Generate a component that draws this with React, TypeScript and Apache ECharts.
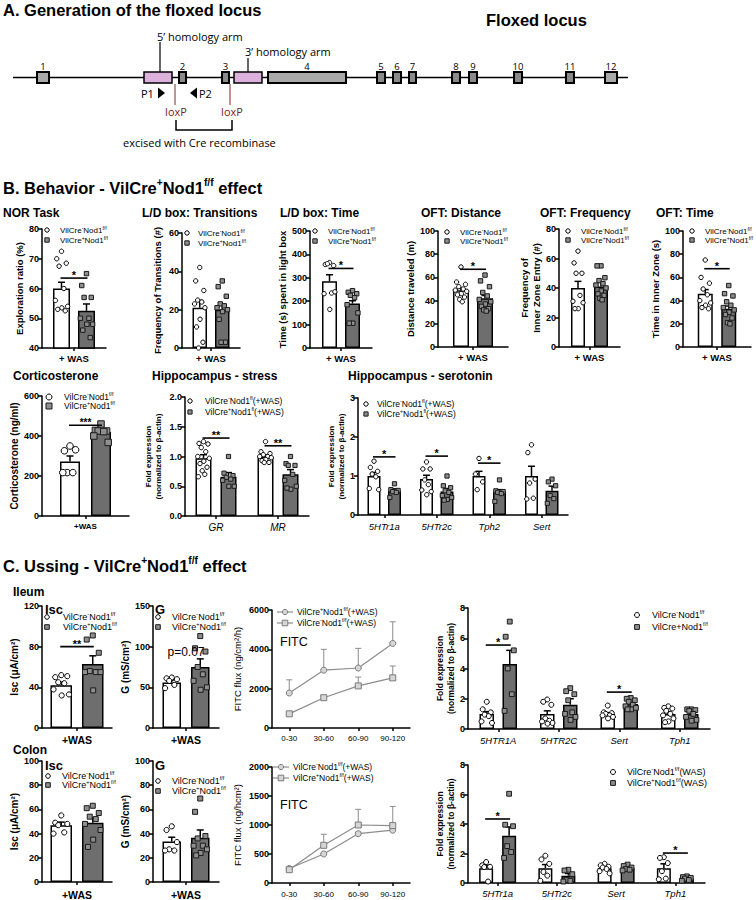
import React, { useEffect, useRef } from 'react';
import * as echarts from 'echarts';

const FF = '"Liberation Sans", Arial, Helvetica, sans-serif';
const FD = '"Open Sans", "DejaVu Sans", sans-serif';
const GRAY_BAR = '#6e6e6e';

// ================= DATA =================
// ---- B. Behavior, row 1 (single category "+ WAS") ----
const wasCat = ['+ WAS'];
const norWMean = [60], norWSem = [2.1], norGMean = [52.5], norGSem = [2.3];
const norWPts = [[72.5, 70, 68.5, 67.5, 60, 56, 54, 53.5, 53, 52.5]];
const norGPts = [[65, 61, 57, 57, 50, 50, 48, 48, 46, 43.5]];
const norSig = [{ cat: 0, y: 63.5, label: '*' }];

const ldtWMean = [21], ldtWSem = [3.8], ldtGMean = [20], ldtGSem = [2.8];
const ldtWPts = [[42, 35, 30, 25, 24, 23, 21, 15, 11, 3, 0]];
const ldtGPts = [[35, 32, 27, 23, 22, 21, 20, 19, 15, 3, 3]];

const ldtmWMean = [285], ldtmWSem = [28], ldtmGMean = [190], ldtmGSem = [12];
const ldtmWPts = [[365, 357, 352, 360, 235, 232, 240, 165]];
const ldtmGPts = [[245, 238, 232, 225, 215, 185, 150, 106, 106]];
const ldtmSig = [{ cat: 0, y: 340, label: '*' }];

const odWMean = [49], odWSem = [2], odGMean = [42], odGSem = [2.4];
const odWPts = [[69, 56, 54, 52, 50, 49, 48, 46, 45, 43, 41, 39]];
const odGPts = [[62, 57, 52, 47, 44, 41, 39, 37, 35, 33, 32, 31]];
const odSig = [{ cat: 0, y: 67, label: '*' }];

const ofWMean = [40], ofWSem = [4.5], ofGMean = [41], ofGSem = [3];
const ofWPts = [[65, 57, 50, 50, 35, 31, 30, 26, 26]];
const ofGPts = [[55, 55, 47, 45, 43, 42, 40, 38, 36, 35, 33, 32]];

const otWMean = [46], otWSem = [3.5], otGMean = [33], otGSem = [2.3];
const otWPts = [[75, 60, 55, 50, 45, 40, 38, 36, 34, 33]];
const otGPts = [[53, 46, 44, 39, 36, 34, 32, 30, 28, 25, 21, 20]];
const otSig = [{ cat: 0, y: 67.5, label: '*' }];

// ---- B. Behavior, row 2 ----
const cortCat = ['+WAS'];
const cortWMean = [272], cortWSem = [28], cortGMean = [420], cortGSem = [12];
const cortWPts = [[350, 326, 331, 217, 217, 217]];
const cortGPts = [[460, 428, 425, 425, 422, 400, 368]];
const cortSig = [{ cat: 0, y: 454, label: '***' }];

const hsCats = ['GR', 'MR'];
const hsWMean = [0.97, 1.0], hsWSem = [0.06, 0.03], hsGMean = [0.66, 0.7], hsGSem = [0.07, 0.08];
const hsWPts = [[1.25, 1.22, 1.21, 1.15, 1.08, 1.0, 0.97, 0.92, 0.88, 0.82, 0.76, 0.7, 0.66], [1.25, 1.08, 1.05, 1.03, 1.0, 1.0, 0.98, 0.95, 0.93, 0.9, 0.9]];
const hsGPts = [[1.0, 0.72, 0.68, 0.65, 0.62, 0.6, 0.5, 0.5], [1.0, 0.88, 0.85, 0.85, 0.7, 0.6, 0.5, 0.45, 0.47]];
const hsSig = [{ cat: 0, y: 1.31, label: '**' }, { cat: 1, y: 1.18, label: '**' }];

const hserCats = ['5HTr1a', '5HTr2c', 'Tph2', 'Sert'];
const hserWMean = [1.0, 0.92, 1.0, 1.0], hserWSem = [0.09, 0.1, 0.12, 0.25];
const hserGMean = [0.62, 0.6, 0.6, 0.62], hserGSem = [0.05, 0.08, 0.05, 0.12];
const hserWPts = [[1.38, 1.22, 1.12, 1.05, 0.98, 0.68, 0.65], [1.36, 1.18, 1.18, 0.9, 0.78, 0.64, 0.6, 0.52], [1.45, 1.05, 0.85, 0.65], [1.8, 1.6, 0.92, 0.82, 0.43, 0.41]];
const hserGPts = [[0.8, 0.65, 0.63, 0.6, 0.58, 0.45], [1.0, 0.75, 0.7, 0.62, 0.58, 0.5, 0.45, 0.4, 0.38], [0.9, 0.62, 0.6, 0.58, 0.55, 0.35], [0.92, 0.85, 0.75, 0.5, 0.42, 0.3]];
const hserSig = [{ cat: 0, y: 1.49, label: '*' }, { cat: 1, y: 1.51, label: '*' }, { cat: 2, y: 1.33, label: '*' }];

// ---- C. Ussing, Ileum ----
const ussCat = ['+WAS'];
const ilIscWMean = [42], ilIscWSem = [3], ilIscGMean = [63], ilIscGSem = [8];
const ilIscWPts = [[52, 50, 51, 45, 44, 38, 33, 32]];
const ilIscGPts = [[91, 87, 74, 56, 55, 55, 55, 37]];
const ilIscSig = [{ cat: 0, y: 80, label: '**' }];

const ilGWMean = [56], ilGWSem = [3], ilGGMean = [75], ilGGSem = [10];
const ilGWPts = [[62, 61, 60, 58, 53, 49]];
const ilGGPts = [[113, 98, 94, 75, 66, 58, 50, 47]];
const ilGSig = [{ cat: 0, y: 93, label: 'p=0.07', noLine: true }];

const fitcCats = ['0-30', '30-60', '60-90', '90-120'];
const ilFitcCircle = [1780, 2940, 3050, 4300], ilFitcCircleSem = [670, 1060, 1000, 1100];
const ilFitcSquare = [720, 1540, 2140, 2550], ilFitcSquareSem = [40, 80, 450, 600];

const ilGeneCats = ['5HTR1A', '5HTR2C', 'Sert', 'Tph1'];
const ilGeneWMean = [1.0, 1.0, 1.0, 1.0], ilGeneWSem = [0.15, 0.2, 0.08, 0.1];
const ilGeneGMean = [4.3, 1.6, 1.65, 1.0], ilGeneGSem = [0.9, 0.4, 0.1, 0.08];
const ilGeneWPts = [[1.8, 1.3, 1.1, 0.95, 0.85, 0.5, 0.4], [1.95, 1.8, 1.6, 0.7, 0.55, 0.5, 0.4, 0.35], [1.55, 1.1, 1.05, 1.0, 0.9, 0.9, 0.8, 0.7], [1.5, 1.4, 1.35, 1.2, 1.0, 0.9, 0.7, 0.5, 0.45]];
const ilGeneGPts = [[7.1, 6.1, 5.2, 4.0, 2.3, 1.2], [2.7, 2.5, 2.3, 1.9, 1.1, 1.0, 0.8, 0.6], [2.05, 2.0, 1.9, 1.8, 1.6, 1.5, 1.4, 1.3, 1.3], [1.3, 1.3, 1.25, 1.2, 1.0, 0.8, 0.6, 0.55]];
const ilGeneSig = [{ cat: 0, y: 5.55, label: '*' }, { cat: 2, y: 2.44, label: '*' }];

// ---- C. Ussing, Colon ----
const coIscWMean = [47], coIscWSem = [2.5], coIscGMean = [49], coIscGSem = [4];
const coIscWPts = [[55, 49, 48, 47, 41, 40]];
const coIscGPts = [[63, 61, 57, 54, 52, 48, 43, 35, 29]];

const coGWMean = [33.5], coGWSem = [3.5], coGGMean = [36.5], coGGSem = [6.5];
const coGWPts = [[46, 43, 33, 27, 26, 26]];
const coGGPts = [[69, 58, 38, 36, 30, 30, 27, 24, 22]];

const coFitcCircle = [250, 500, 850, 910], coFitcCircleSem = [20, 30, 30, 30];
const coFitcSquare = [230, 650, 1000, 990], coFitcSquareSem = [40, 190, 270, 330];

const coGeneCats = ['5HTr1a', '5HTr2c', 'Sert', 'Tph1'];
const coGeneWMean = [1.0, 1.0, 1.0, 1.0], coGeneWSem = [0.2, 0.25, 0.07, 0.3];
const coGeneGMean = [3.2, 0.5, 1.0, 0.3], coGeneGSem = [0.6, 0.15, 0.06, 0.04];
const coGeneWPts = [[1.42, 1.2, 1.1, 1.08, 0.1], [1.85, 1.6, 1.3, 0.75, 0.5, 0.15], [1.3, 1.2, 1.1, 1.05, 0.95, 0.8, 0.65], [1.75, 1.7, 1.35, 0.8, 0.3, 0.25]];
const coGeneGPts = [[6.05, 3.95, 3.85, 2.5, 2.1, 1.7], [0.9, 0.85, 0.6, 0.2, 0.15, 0.1], [1.25, 1.15, 1.05, 0.95, 0.9, 0.85], [0.45, 0.4, 0.35, 0.3, 0.2, 0.15]];
const coGeneSig = [{ cat: 0, y: 4.34, label: '*' }, { cat: 3, y: 2.03, label: '*' }];

// ---- Legend labels (segments starting with ^ are superscripts) ----
const L_NEG = ['VilCre', '^-', 'Nod1', '^f/f'];
const L_POS = ['VilCre', '^+', 'Nod1', '^f/f'];
const L_NEG_FL = ['VilCre', '^-', 'Nod1', '^fl', '(+WAS)'];
const L_POS_FL = ['VilCre', '^+', 'Nod1', '^fl', '(+WAS)'];
const L_NEG_W = ['VilCre', '^-', 'Nod1', '^f/f', '(+WAS)'];
const L_POS_W = ['VilCre', '^+', 'Nod1', '^f/f', '(+WAS)'];
const L_POS_PLAIN = ['VilCre+Nod1', '^f/f'];
const L_NEG_WAS = ['VilCre', '^-', 'Nod1', '^f/f', '(WAS)'];
const L_POS_WAS = ['VilCre', '^+', 'Nod1', '^f/f', '(WAS)'];

const exonLabels = ['1', '2', '3', '4', '5', '6', '7', '8', '9', '10', '11', '12'];

// ================= HELPERS =================
const JIT = [0, -0.7, 0.7, -0.35, 0.35, -0.9, 0.9, 0.05, -0.55, 0.55, -0.2, 0.2, -0.8, 0.8];

function richText(segs: string[], fs: number, fw: string = 'normal') {
  let text = '';
  segs.forEach((s) => {
    if (s.startsWith('^')) text += '{s|' + s.slice(1) + '}';
    else text += '{n|' + s + '}';
  });
  const rich = {
    n: { fontSize: fs, fontFamily: FF, fontWeight: fw, fill: '#000', color: '#000', lineHeight: fs * 1.25 },
    s: { fontSize: Math.round(fs * 0.62 * 10) / 10, fontFamily: FF, fontWeight: fw, fill: '#000', color: '#000', verticalAlign: 'top', lineHeight: fs * 0.7 },
  };
  return { text, rich };
}

function T(text: string, x: number, y: number, fs: number, o: any = {}) {
  return {
    type: 'text', x, y, silent: true,
    style: {
      text, fontSize: fs, fontFamily: o.ff || FF, fontWeight: o.fw || 'normal', fontStyle: o.fst || 'normal',
      fill: o.fill || '#000', textAlign: o.align || 'left', textVerticalAlign: 'middle',
    },
  };
}

function RT(segs: string[], x: number, y: number, fs: number, fw: string = 'normal') {
  const r = richText(segs, fs, fw);
  return {
    type: 'text', x, y, silent: true,
    style: { text: r.text, rich: r.rich, fontSize: fs, fontFamily: FF, fontWeight: fw, fill: '#000', textAlign: 'left', textVerticalAlign: 'middle' },
  };
}

function marker(kind: string, x: number, y: number, r: number, sq: number) {
  const els: any[] = [];
  if (kind === 'lc' || kind === 'ls') {
    els.push({ type: 'line', silent: true, shape: { x1: x - 8, y1: y, x2: x + 8, y2: y }, style: { stroke: '#8c8c8c', lineWidth: 1.2 } });
  }
  if (kind === 'circle') els.push({ type: 'circle', silent: true, shape: { cx: x, cy: y, r }, style: { fill: '#fff', stroke: '#000', lineWidth: 1 } });
  if (kind === 'square') els.push({ type: 'rect', silent: true, shape: { x: x - sq / 2, y: y - sq / 2, width: sq, height: sq }, style: { fill: '#8f8f8f', stroke: '#1a1a1a', lineWidth: 1 } });
  if (kind === 'lc') els.push({ type: 'circle', silent: true, shape: { cx: x, cy: y, r: 2.6 }, style: { fill: '#d6d6d6', stroke: '#7a7a7a', lineWidth: 1 } });
  if (kind === 'ls') els.push({ type: 'rect', silent: true, shape: { x: x - 2.8, y: y - 2.8, width: 5.6, height: 5.6 }, style: { fill: '#d6d6d6', stroke: '#7a7a7a', lineWidth: 1 } });
  return els;
}

function legend(mx: number, tx: number, ys: number[], items: { m: string; l: string[] }[], fs: number, r: number, sq: number) {
  const els: any[] = [];
  items.forEach((it, i) => {
    els.push(...marker(it.m, mx, ys[i], r, sq));
    els.push(RT(it.l, tx, ys[i], fs));
  });
  return els;
}

function buildOption() {
  const grid: any[] = [], xAxis: any[] = [], yAxis: any[] = [], series: any[] = [];

  function axes(p: any) {
    const gi = grid.length;
    grid.push({ left: p.left, top: p.top, width: p.width, height: p.height, containLabel: false });
    xAxis.push({
      type: 'category', gridIndex: gi, data: p.cats,
      axisLine: { show: true, onZero: false, lineStyle: { color: '#000', width: 1.5 } },
      axisTick: { show: true, alignWithLabel: true, length: 3, lineStyle: { color: '#000', width: 1.5 } },
      axisLabel: { color: '#000', fontFamily: FF, interval: 0, margin: p.catMargin, ...p.catFont },
      splitLine: { show: false },
    });
    yAxis.push({
      type: 'value', gridIndex: gi, min: p.min, max: p.max, interval: p.interval,
      axisLine: { show: true, lineStyle: { color: '#000', width: 1.5 } },
      axisTick: { show: true, length: 4, lineStyle: { color: '#000', width: 1.5 } },
      axisLabel: { color: '#000', fontFamily: FF, fontSize: 9, fontWeight: 'bold', margin: 3, formatter: p.fmt || ((v: number) => String(v)) },
      splitLine: { show: false },
      name: p.yName, nameLocation: 'middle', nameRotate: 90, nameGap: p.nameGap,
      nameTextStyle: { color: '#000', fontFamily: FF, fontSize: p.nameSize, fontWeight: p.nameWeight || 'bold', lineHeight: p.nameSize + 2, align: 'center' },
    });
    return gi;
  }

  function errSeries(gi: number, mean: number[], sem: number[], off: number, color: string, cap: number, lw: number, z: number) {
    return {
      type: 'custom', xAxisIndex: gi, yAxisIndex: gi, z, silent: true, clip: false,
      encode: { x: 0, y: 1 },
      data: mean.map((m, i) => [i, m, m + sem[i]]),
      renderItem: (params: any, api: any) => {
        const a = api.coord([api.value(0), api.value(1)]);
        const b = api.coord([api.value(0), api.value(2)]);
        const x = a[0] + off;
        return {
          type: 'group', children: [
            { type: 'line', shape: { x1: x, y1: a[1], x2: x, y2: b[1] }, style: { stroke: color, lineWidth: lw } },
            { type: 'line', shape: { x1: x - cap, y1: b[1], x2: x + cap, y2: b[1] }, style: { stroke: color, lineWidth: lw } },
          ],
        };
      },
    };
  }

  function ptsSeries(gi: number, pts: number[][], off: number, barW: number, shape: string, size: number) {
    const data: any[] = [];
    pts.forEach((arr, ci) => arr.forEach((v, k) => data.push([ci, v, k])));
    return {
      type: 'custom', xAxisIndex: gi, yAxisIndex: gi, z: 4, silent: true, clip: false,
      encode: { x: 0, y: 1 },
      data,
      renderItem: (params: any, api: any) => {
        const c = api.coord([api.value(0), api.value(1)]);
        const x = c[0] + off + JIT[api.value(2) % JIT.length] * barW * 0.4;
        if (shape === 'circle') {
          return { type: 'circle', shape: { cx: x, cy: c[1], r: size }, style: { fill: '#fff', stroke: '#000', lineWidth: 1 } };
        }
        return { type: 'rect', shape: { x: x - size / 2, y: c[1] - size / 2, width: size, height: size }, style: { fill: '#8f8f8f', stroke: '#1a1a1a', lineWidth: 1 } };
      },
    };
  }

  function sigSeries(gi: number, sig: any[], half: number, fs: number) {
    return {
      type: 'custom', xAxisIndex: gi, yAxisIndex: gi, z: 5, silent: true, clip: false,
      encode: { x: 0, y: 1 },
      data: sig.map((s) => [s.cat, s.y]),
      renderItem: (params: any, api: any) => {
        const s = sig[params.dataIndex];
        const c = api.coord([api.value(0), api.value(1)]);
        const children: any[] = [];
        if (!s.noLine) {
          children.push({ type: 'line', shape: { x1: c[0] - half - 1, y1: c[1], x2: c[0] + half + 1, y2: c[1] }, style: { stroke: '#000', lineWidth: 1.6 } });
          children.push({ type: 'text', x: c[0], y: c[1] - 3, style: { text: s.label, textAlign: 'center', textVerticalAlign: 'middle', fontSize: fs, fontFamily: FF, fontWeight: 'bold', fill: '#000' } });
        } else {
          children.push({ type: 'text', x: c[0], y: c[1], style: { text: s.label, textAlign: 'center', textVerticalAlign: 'middle', fontSize: 12, fontFamily: FF, fontWeight: 'normal', fill: '#000' } });
        }
        return { type: 'group', children };
      },
    };
  }

  function barPanel(p: any) {
    const gi = axes(p);
    const gapPct = (((p.spacing - p.barW) / p.barW) * 100).toFixed(1) + '%';
    const half = p.spacing / 2;
    series.push({ type: 'bar', name: 'VilCre-', xAxisIndex: gi, yAxisIndex: gi, data: p.wMean, barWidth: p.barW, barGap: gapPct, z: 2, silent: true, itemStyle: { color: '#fff', borderColor: '#000', borderWidth: 1.5 } });
    series.push({ type: 'bar', name: 'VilCre+', xAxisIndex: gi, yAxisIndex: gi, data: p.gMean, barWidth: p.barW, barGap: gapPct, z: 2, silent: true, itemStyle: { color: GRAY_BAR, borderColor: '#000', borderWidth: 1.5 } });
    series.push(errSeries(gi, p.wMean, p.wSem, -half, '#000', 3.5, 1.5, 3));
    series.push(errSeries(gi, p.gMean, p.gSem, half, '#000', 3.5, 1.5, 3));
    series.push(ptsSeries(gi, p.wPts, -half, p.barW, 'circle', p.r));
    series.push(ptsSeries(gi, p.gPts, half, p.barW, 'square', p.sq));
    if (p.sig) series.push(sigSeries(gi, p.sig, half, p.sigFs || 11));
  }

  function linePanel(p: any) {
    const gi = axes(p);
    series.push(errSeries(gi, p.aMean, p.aSem, 0, '#8c8c8c', 3, 1, 2));
    series.push(errSeries(gi, p.bMean, p.bSem, 0, '#8c8c8c', 3, 1, 2));
    series.push({ type: 'line', xAxisIndex: gi, yAxisIndex: gi, data: p.aMean, symbol: 'circle', symbolSize: 6, z: 3, silent: true, lineStyle: { color: '#8c8c8c', width: 1.2 }, itemStyle: { color: '#d6d6d6', borderColor: '#7a7a7a', borderWidth: 1 } });
    series.push({ type: 'line', xAxisIndex: gi, yAxisIndex: gi, data: p.bMean, symbol: 'rect', symbolSize: 6, z: 3, silent: true, lineStyle: { color: '#8c8c8c', width: 1.2 }, itemStyle: { color: '#d6d6d6', borderColor: '#7a7a7a', borderWidth: 1 } });
  }

  const row1Cat = { fontSize: 9.5, fontWeight: 'bold' };
  const r1 = { cats: wasCat, catFont: row1Cat, catMargin: 5, nameSize: 9.5, r: 2.2, sq: 4.4 };

  barPanel({ ...r1, left: 42, top: 229, width: 64, height: 119, min: 40, max: 80, interval: 10, yName: 'Exploration ratio (%)', nameGap: 16, wMean: norWMean, wSem: norWSem, gMean: norGMean, gSem: norGSem, wPts: norWPts, gPts: norGPts, barW: 17, spacing: 25, sig: norSig });
  barPanel({ ...r1, left: 182, top: 233, width: 58, height: 115, min: 0, max: 60, interval: 20, yName: 'Frequency of Transitions (#)', nameGap: 19, wMean: ldtWMean, wSem: ldtWSem, gMean: ldtGMean, gSem: ldtGSem, wPts: ldtWPts, gPts: ldtGPts, barW: 14.5, spacing: 22.5 });
  barPanel({ ...r1, left: 310, top: 231, width: 62, height: 117, min: 0, max: 500, interval: 100, yName: 'Time (s) spent in light box', nameGap: 22, wMean: ldtmWMean, wSem: ldtmWSem, gMean: ldtmGMean, gSem: ldtmGSem, wPts: ldtmWPts, gPts: ldtmGPts, barW: 15, spacing: 23, sig: ldtmSig });
  barPanel({ ...r1, left: 438, top: 231, width: 70, height: 116, min: 0, max: 100, interval: 20, yName: 'Distance traveled (m)', nameGap: 17, wMean: odWMean, wSem: odWSem, gMean: odGMean, gSem: odGSem, wPts: odWPts, gPts: odGPts, barW: 16, spacing: 24, sig: odSig });
  barPanel({ ...r1, left: 559, top: 229, width: 61, height: 118, min: 0, max: 80, interval: 20, yName: 'Frequency of\nInner Zone Entry (#)', nameGap: 17, wMean: ofWMean, wSem: ofWSem, gMean: ofGMean, gSem: ofGSem, wPts: ofWPts, gPts: ofGPts, barW: 14, spacing: 23 });
  barPanel({ ...r1, left: 683, top: 231, width: 68, height: 116, min: 0, max: 100, interval: 20, yName: 'Time in Inner Zone (s)', nameGap: 18, wMean: otWMean, wSem: otWSem, gMean: otGMean, gSem: otGSem, wPts: otWPts, gPts: otGPts, barW: 15, spacing: 23.5, sig: otSig });

  barPanel({ cats: cortCat, catFont: { fontSize: 8, fontWeight: 'bold' }, catMargin: 6, nameSize: 10, r: 3.3, sq: 6.5, left: 42, top: 396, width: 87, height: 120, min: 0, max: 600, interval: 200, yName: 'Corticosterone (ng/ml)', nameGap: 20, wMean: cortWMean, wSem: cortWSem, gMean: cortGMean, gSem: cortGSem, wPts: cortWPts, gPts: cortGPts, barW: 20, spacing: 31, sig: cortSig, sigFs: 10 });
  barPanel({ cats: hsCats, catFont: { fontSize: 10, fontStyle: 'italic' }, catMargin: 6, nameSize: 8, r: 2.2, sq: 4.2, left: 185, top: 397, width: 124, height: 119, min: 0, max: 2, interval: 0.5, fmt: (v: number) => v.toFixed(1), yName: 'Fold expression\n(normalized to β-actin)', nameGap: 22, wMean: hsWMean, wSem: hsWSem, gMean: hsGMean, gSem: hsGSem, wPts: hsWPts, gPts: hsGPts, barW: 16, spacing: 25, sig: hsSig });
  barPanel({ cats: hserCats, catFont: { fontSize: 9.5, fontStyle: 'italic' }, catMargin: 6, nameSize: 8, r: 2.2, sq: 4.2, left: 358, top: 398, width: 210, height: 117, min: 0, max: 3, interval: 1, yName: 'Fold expression\n(normalized to β-actin)', nameGap: 12, wMean: hserWMean, wSem: hserWSem, gMean: hserGMean, gSem: hserGSem, wPts: hserWPts, gPts: hserGPts, barW: 13, spacing: 20.5, sig: hserSig });

  const uss = { cats: ussCat, catFont: { fontSize: 10.5, fontWeight: 'bold' }, catMargin: 6, nameSize: 10, r: 2.6, sq: 5 };
  barPanel({ ...uss, left: 42, top: 606, width: 70, height: 122, min: 0, max: 120, interval: 40, yName: 'Isc (μA/cm²)', nameGap: 15, wMean: ilIscWMean, wSem: ilIscWSem, gMean: ilIscGMean, gSem: ilIscGSem, wPts: ilIscWPts, gPts: ilIscGPts, barW: 21.5, spacing: 31.5, sig: ilIscSig });
  barPanel({ ...uss, left: 153, top: 606, width: 66, height: 122, min: 0, max: 150, interval: 50, yName: 'G (mS/cm²)', nameGap: 20, wMean: ilGWMean, wSem: ilGWSem, gMean: ilGGMean, gSem: ilGGSem, wPts: ilGWPts, gPts: ilGGPts, barW: 18.5, spacing: 28.5, sig: ilGSig });
  linePanel({ cats: fitcCats, catFont: { fontSize: 8 }, catMargin: 6, nameSize: 9.5, nameWeight: 'normal', left: 272, top: 610, width: 138, height: 118, min: 0, max: 6000, interval: 2000, yName: 'FITC flux (ng/cm²/h)', nameGap: 29, aMean: ilFitcCircle, aSem: ilFitcCircleSem, bMean: ilFitcSquare, bSem: ilFitcSquareSem });
  barPanel({ cats: ilGeneCats, catFont: { fontSize: 9.5, fontStyle: 'italic' }, catMargin: 6, nameSize: 8.5, r: 2.5, sq: 4.8, left: 468, top: 608, width: 242, height: 121, min: 0, max: 8, interval: 2, yName: 'Fold expression\n(normalized to β-actin)', nameGap: 11, wMean: ilGeneWMean, wSem: ilGeneWSem, gMean: ilGeneGMean, gSem: ilGeneGSem, wPts: ilGeneWPts, gPts: ilGeneGPts, barW: 14.5, spacing: 23, sig: ilGeneSig });

  barPanel({ ...uss, catMargin: 7, left: 42, top: 761, width: 70, height: 122, min: 0, max: 100, interval: 20, yName: 'Isc (μA/cm²)', nameGap: 15, wMean: coIscWMean, wSem: coIscWSem, gMean: coIscGMean, gSem: coIscGSem, wPts: coIscWPts, gPts: coIscGPts, barW: 21.5, spacing: 31.5 });
  barPanel({ ...uss, catMargin: 7, left: 153, top: 761, width: 66, height: 122, min: 0, max: 100, interval: 20, yName: 'G (mS/cm²)', nameGap: 20, wMean: coGWMean, wSem: coGWSem, gMean: coGGMean, gSem: coGGSem, wPts: coGWPts, gPts: coGGPts, barW: 18.5, spacing: 28.5 });
  linePanel({ cats: fitcCats, catFont: { fontSize: 8 }, catMargin: 7, nameSize: 9.5, nameWeight: 'normal', left: 272, top: 767, width: 138, height: 116, min: 0, max: 2000, interval: 500, yName: 'FITC flux (ng/hcm²)', nameGap: 29, aMean: coFitcCircle, aSem: coFitcCircleSem, bMean: coFitcSquare, bSem: coFitcSquareSem });
  barPanel({ cats: coGeneCats, catFont: { fontSize: 9.5, fontStyle: 'italic' }, catMargin: 5, nameSize: 8.5, r: 2.5, sq: 4.8, left: 468, top: 765, width: 237, height: 118, min: 0, max: 8, interval: 2, yName: 'Fold expression\n(normalized to β-actin)', nameGap: 12, wMean: coGeneWMean, wSem: coGeneWSem, gMean: coGeneGMean, gSem: coGeneGSem, wPts: coGeneWPts, gPts: coGeneGPts, barW: 14, spacing: 23, sig: coGeneSig });

  // ================= GRAPHIC =================
  const g: any[] = [];
  // --- Panel A diagram ---
  g.push(T('A. Generation of the floxed locus', 3, 10, 16.5, { fw: 'bold' }));
  g.push(T('Floxed locus', 486, 20, 16.5, { fw: 'bold' }));
  g.push({ type: 'line', silent: true, shape: { x1: 13, y1: 77.5, x2: 628, y2: 77.5 }, style: { stroke: '#000', lineWidth: 1.5 } });
  const exonBoxes = [
    [37, 12, 'L'], [179, 7, 'S'], [222, 7, 'S'], [268, 78, 'L'], [377, 8, 'S'], [393, 8, 'S'], [409, 7, 'S'],
    [452, 8, 'S'], [469, 8, 'S'], [514, 8, 'S'], [566, 8, 'S'], [605, 12, 'L'],
  ];
  // homology arms (pink)
  g.push({ type: 'rect', silent: true, shape: { x: 144, y: 72, width: 28, height: 11 }, style: { fill: '#dcb1dc', stroke: '#000', lineWidth: 1.5 } });
  g.push({ type: 'rect', silent: true, shape: { x: 234, y: 72, width: 28, height: 11 }, style: { fill: '#dcb1dc', stroke: '#000', lineWidth: 1.5 } });
  exonBoxes.forEach((e: any, i) => {
    g.push({ type: 'rect', silent: true, shape: { x: e[0], y: 72, width: e[1], height: 11 }, style: { fill: e[2] === 'L' ? '#a9a9a9' : '#8a8a8a', stroke: '#000', lineWidth: 2 } });
    g.push(T(exonLabels[i], e[0] + e[1] / 2, 66, 9.5, { ff: FD, align: 'center' }));
  });
  g.push({ type: 'line', silent: true, shape: { x1: 160, y1: 42, x2: 160, y2: 72 }, style: { stroke: '#000', lineWidth: 1.2 } });
  g.push(T('5’ homology arm', 157, 36, 11, { ff: FD }));
  g.push({ type: 'line', silent: true, shape: { x1: 248, y1: 58, x2: 248, y2: 72 }, style: { stroke: '#000', lineWidth: 1.2 } });
  g.push(T('3’ homology arm', 245, 51, 11, { ff: FD }));
  g.push(T('P1', 141, 93, 11, { ff: FD }));
  g.push({ type: 'polygon', silent: true, shape: { points: [[158, 87.5], [165, 93], [158, 98.5]] }, style: { fill: '#000' } });
  g.push({ type: 'polygon', silent: true, shape: { points: [[197, 87.5], [190, 93], [197, 98.5]] }, style: { fill: '#000' } });
  g.push(T('P2', 199, 93, 11, { ff: FD }));
  g.push({ type: 'line', silent: true, shape: { x1: 175, y1: 84, x2: 175, y2: 105 }, style: { stroke: '#7b2a2a', lineWidth: 1 } });
  g.push({ type: 'line', silent: true, shape: { x1: 230, y1: 84, x2: 230, y2: 105 }, style: { stroke: '#7b2a2a', lineWidth: 1 } });
  g.push(T('loxP', 176, 111, 11, { ff: FD, align: 'center', fill: '#7a1d1d' }));
  g.push(T('loxP', 232, 111, 11, { ff: FD, align: 'center', fill: '#7a1d1d' }));
  g.push({ type: 'polyline', silent: true, shape: { points: [[176, 120], [176, 130], [232, 130], [232, 120]] }, style: { stroke: '#000', lineWidth: 1.5, fill: null } });
  g.push(T('excised with Cre recombinase', 123, 142, 11, { ff: FD }));

  // --- Section titles ---
  g.push(RT(['B. Behavior - VilCre', '^+', 'Nod1', '^f/f', ' effect'], 3, 188, 16.5, 'bold'));
  g.push(T('NOR Task', 3, 213, 12, { fw: 'bold' }));
  g.push(T('L/D box: Transitions', 142, 213, 12, { fw: 'bold' }));
  g.push(T('L/D box: Time', 280, 213, 12, { fw: 'bold' }));
  g.push(T('OFT: Distance', 421, 213, 12, { fw: 'bold' }));
  g.push(T('OFT: Frequency', 540, 213, 12, { fw: 'bold' }));
  g.push(T('OFT: Time', 656, 213, 12, { fw: 'bold' }));
  g.push(T('Corticosterone', 13, 376, 12, { fw: 'bold' }));
  g.push(T('Hippocampus - stress', 152, 376, 12, { fw: 'bold' }));
  g.push(T('Hippocampus - serotonin', 348, 376, 12, { fw: 'bold' }));
  g.push(RT(['C. Ussing - VilCre', '^+', 'Nod1', '^f/f', ' effect'], 3, 566, 16.5, 'bold'));
  g.push(T('Ileum', 13, 592, 12, { fw: 'bold' }));
  g.push(T('Colon', 13, 750, 12, { fw: 'bold' }));
  g.push(T('Isc', 45, 609, 13, { fw: 'bold' }));
  g.push(T('G', 155, 609, 13, { fw: 'bold' }));
  g.push(T('Isc', 45, 765, 13, { fw: 'bold' }));
  g.push(T('G', 155, 765, 13, { fw: 'bold' }));
  g.push(T('FITC', 280, 642, 12.5));
  g.push(T('FITC', 280, 805, 12.5));

  // --- Legends ---
  const two = (a: string[], b: string[]) => [{ m: 'circle', l: a }, { m: 'square', l: b }];
  g.push(...legend(47, 60, [230, 240], two(L_NEG, L_POS), 8, 2.2, 4.4));
  g.push(...legend(187, 198, [233, 243], two(L_NEG, L_POS), 8, 2.2, 4.4));
  g.push(...legend(315, 328, [231, 241], two(L_NEG, L_POS), 8, 2.2, 4.4));
  g.push(...legend(447, 460, [232, 241], two(L_NEG, L_POS), 8, 2.2, 4.4));
  g.push(...legend(568, 581, [231, 240], two(L_NEG, L_POS), 8, 2.2, 4.4));
  g.push(...legend(692, 705, [231, 240], two(L_NEG, L_POS), 8, 2.2, 4.4));
  g.push(...legend(49, 64, [397, 406], two(L_NEG, L_POS), 8.5, 3, 6));
  g.push(...legend(190, 205, [401, 412], two(L_NEG_FL, L_POS_FL), 8.5, 2.2, 4.2));
  g.push(...legend(366, 377, [404, 414], two(L_NEG_FL, L_POS_FL), 8.5, 2.2, 4.2));
  g.push(...legend(47, 63, [617, 627], two(L_NEG, L_POS), 9, 2.3, 4.6));
  g.push(...legend(158, 172, [617, 627], two(L_NEG, L_POS), 9, 2.3, 4.6));
  g.push(...legend(285, 297, [612, 623], [{ m: 'lc', l: L_POS_W }, { m: 'ls', l: L_NEG_W }], 8.5, 2.5, 5));
  g.push(...legend(637, 652, [615, 627], two(L_NEG, L_POS_PLAIN), 9, 2.5, 4.8));
  g.push(...legend(48, 62, [776, 785], two(L_NEG, L_POS), 9, 2.3, 4.6));
  g.push(...legend(158, 172, [781, 791], two(L_NEG, L_POS), 9, 2.3, 4.6));
  g.push(...legend(281, 293, [767, 778], [{ m: 'lc', l: L_NEG_W }, { m: 'ls', l: L_POS_W }], 8.5, 2.5, 5));
  g.push(...legend(613, 627, [772, 783], two(L_NEG_WAS, L_POS_WAS), 9, 2.5, 4.8));

  return {
    animation: false,
    backgroundColor: '#fff',
    grid, xAxis, yAxis, series,
    graphic: { elements: g },
  };
}

export default function App() {
  const ref = useRef<HTMLDivElement>(null);
  useEffect(() => {
    document.body.style.margin = '0';
    const chart = echarts.init(ref.current as HTMLDivElement, null, { renderer: 'svg' });
    chart.setOption(buildOption() as any);
    return () => chart.dispose();
  }, []);
  return <div ref={ref} style={{ position: 'absolute', left: 0, top: 0, width: 756, height: 900, background: '#fff' }} />;
}
